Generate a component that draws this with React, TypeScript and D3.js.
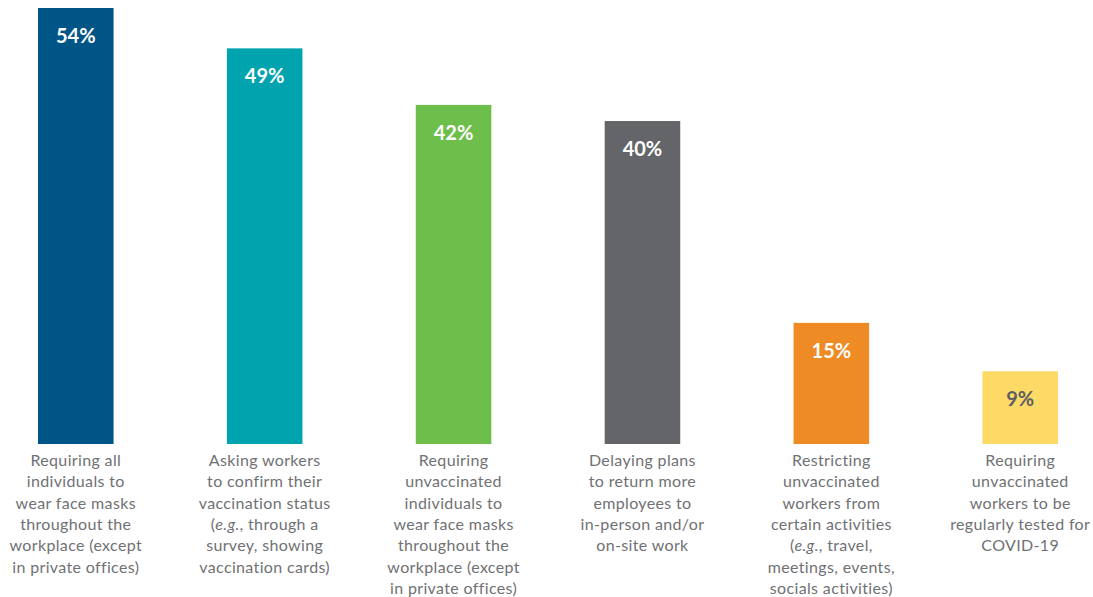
import * as d3 from "d3";

// Chart values
const categories = [
  "masks-all",
  "confirm-status",
  "masks-unvaccinated",
  "delay-return",
  "restrict-activities",
  "regular-testing",
];

const values = [54, 49, 42, 40, 15, 9];

const barColors = ["#005587", "#00a3ae", "#6dbe4b", "#636569", "#ee8b24", "#fdd966"];
const valueColors = ["#ffffff", "#ffffff", "#ffffff", "#ffffff", "#ffffff", "#5d5e61"];

// Category label lines; *text* marks italic runs
const labelLines = [
  ["Requiring all", "individuals to", "wear face masks", "throughout the", "workplace (except", "in private offices)"],
  ["Asking workers", "to confirm their", "vaccination status", "(*e.g.*, through a", "survey, showing", "vaccination cards)"],
  ["Requiring", "unvaccinated", "individuals to", "wear face masks", "throughout the", "workplace (except", "in private offices)"],
  ["Delaying plans", "to return more", "employees to", "in-person and/or", "on-site work"],
  ["Restricting", "unvaccinated", "workers from", "certain activities", "(*e.g.*, travel,", "meetings, events,", "socials activities)"],
  ["Requiring", "unvaccinated", "workers to be", "regularly tested for", "COVID-19"],
];

const width = 1093;
const height = 597;
const baseline = 444;

function segments(line: string) {
  return line.split("*").map((text, i) => ({ text, italic: i % 2 === 1 })).filter(s => s.text !== "");
}

export default function App() {
  const x = d3.scaleBand<string>()
    .domain(categories)
    .range([38, 1058])
    .paddingInner(0.6)
    .paddingOuter(0);

  const y = d3.scaleLinear()
    .domain([0, 54])
    .range([baseline, 8]);

  return (
    <svg
      width={width}
      height={height}
      style={{ position: "absolute", left: 0, top: 0, display: "block", background: "#fff" }}
    >
      {categories.map((c, i) => {
        const x0 = x(c) ?? 0;
        const cx = x0 + x.bandwidth() / 2;
        return (
          <g key={c}>
            <rect
              x={x0}
              y={y(values[i])}
              width={x.bandwidth()}
              height={baseline - y(values[i])}
              fill={barColors[i]}
            />
            <text
              x={cx}
              y={y(values[i]) + 35}
              textAnchor="middle"
              fontFamily="Lato, sans-serif"
              fontWeight={700}
              fontSize={20}
              fill={valueColors[i]}
            >
              {values[i]}%
            </text>
            <text
              textAnchor="middle"
              fontFamily="Lato, sans-serif"
              fontSize={16}
              letterSpacing={0.35}
              fill="#707174"
            >
              {labelLines[i].map((line, j) => (
                <tspan key={j} x={cx} y={466 + j * 21.3}>
                  {segments(line).map((s, k) => (
                    <tspan key={k} fontStyle={s.italic ? "italic" : "normal"}>{s.text}</tspan>
                  ))}
                </tspan>
              ))}
            </text>
          </g>
        );
      })}
    </svg>
  );
}
